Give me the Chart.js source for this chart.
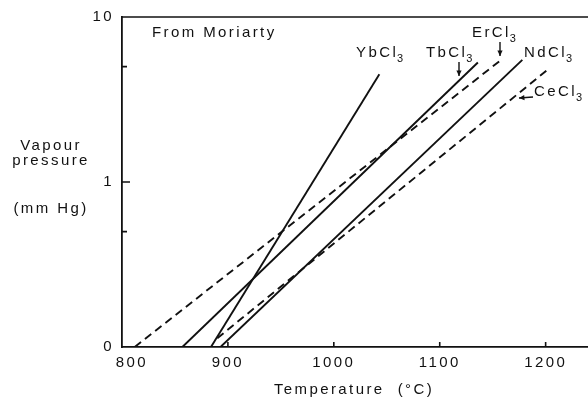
<!DOCTYPE html>
<html>
<head>
<meta charset="utf-8">
<script src="https://cdn.jsdelivr.net/npm/chart.js@4"></script>
<style>
  html, body { margin: 0; padding: 0; background: #fff; }
  #wrap { width: 588px; height: 401px; }
</style>
</head>
<body>
<div id="wrap"><canvas id="myChart" width="588" height="401"></canvas></div>
<script>
// Temperature (°C) and vapour pressure (mm Hg) at the two ends of each line
const ybTemp = [884, 1043];
const ybPres = [0.1, 4.5];
const tbTemp = [857, 1136];
const tbPres = [0.1, 5.3];
const erTemp = [812, 1158];
const erPres = [0.1, 5.5];
const ndTemp = [893, 1178];
const ndPres = [0.1, 5.5];
const ceTemp = [890, 1202];
const cePres = [0.113, 4.8];

// Axis ticks
const xTicks = [800, 900, 1000, 1100, 1200];
const yTicks = [0.1, 1, 10];
const yMinorTicks = [0.5, 5];

const INK = "#111";
const FONT = "15px 'Liberation Sans', Arial, sans-serif";
const SPACING = "2.4px";

function pts(t, p) {
  return t.map((v, i) => ({ x: v, y: p[i] }));
}

function line(name, t, p, dashed) {
  return {
    label: name,
    data: pts(t, p),
    borderColor: INK,
    borderWidth: 1.9,
    borderDash: dashed ? [8, 5] : [],
    pointRadius: 0,
    fill: false,
  };
}

// Text with a "3" subscript, e.g. YbCl3
function formula(ctx, base, x, y) {
  ctx.font = FONT;
  ctx.fillText(base, x, y);
  const w = ctx.measureText(base).width;
  ctx.font = "11px 'Liberation Sans', Arial, sans-serif";
  ctx.fillText("3", x + w - 1, y + 5);
  ctx.font = FONT;
}

function arrow(ctx, x1, y1, x2, y2) {
  ctx.beginPath();
  ctx.moveTo(x1, y1);
  ctx.lineTo(x2, y2);
  ctx.stroke();
  const a = Math.atan2(y2 - y1, x2 - x1);
  ctx.beginPath();
  ctx.moveTo(x2, y2);
  ctx.lineTo(x2 - 6 * Math.cos(a - 0.45), y2 - 6 * Math.sin(a - 0.45));
  ctx.lineTo(x2 - 6 * Math.cos(a + 0.45), y2 - 6 * Math.sin(a + 0.45));
  ctx.closePath();
  ctx.fill();
}

// Frame top, inward ticks, labels and axis titles
const decorations = {
  id: "decorations",
  beforeDraw(chart) {
    chart.ctx.letterSpacing = SPACING;
  },
  afterDraw(chart) {
    const ctx = chart.ctx;
    const area = chart.chartArea;
    const xs = chart.scales.x;
    const ys = chart.scales.y;
    ctx.save();
    ctx.letterSpacing = SPACING;
    ctx.strokeStyle = INK;
    ctx.fillStyle = INK;
    ctx.lineWidth = 1.6;

    // top of the frame
    ctx.beginPath();
    ctx.moveTo(area.left, area.top);
    ctx.lineTo(area.right, area.top);
    ctx.stroke();

    // ticks pointing into the plot
    ctx.beginPath();
    xTicks.slice(1).forEach((v) => {
      const px = xs.getPixelForValue(v);
      ctx.moveTo(px, area.bottom);
      ctx.lineTo(px, area.bottom - 5);
    });
    const py1 = ys.getPixelForValue(1);
    ctx.moveTo(area.left, py1);
    ctx.lineTo(area.left + 8, py1);
    yMinorTicks.forEach((v) => {
      const py = ys.getPixelForValue(v);
      ctx.moveTo(area.left, py);
      ctx.lineTo(area.left + 5, py);
    });
    ctx.stroke();

    // axis titles
    ctx.font = FONT;
    ctx.textAlign = "center";
    ctx.textBaseline = "middle";
    ctx.fillText("Vapour", 51, 146);
    ctx.fillText("pressure", 51, 161);
    ctx.fillText("(mm Hg)", 51, 209);
    ctx.fillText("Temperature  (°C)", 354, 390);

    // source note and series names
    ctx.textAlign = "left";
    ctx.textBaseline = "alphabetic";
    ctx.fillText("From Moriarty", 152, 37);
    formula(ctx, "YbCl", 356, 57);
    formula(ctx, "TbCl", 426, 57);
    formula(ctx, "ErCl", 472, 37);
    formula(ctx, "NdCl", 524, 57);
    formula(ctx, "CeCl", 534, 96);

    ctx.lineWidth = 1.4;
    arrow(ctx, 459, 62, 459, 76);
    arrow(ctx, 500, 42, 500, 56);
    arrow(ctx, 533, 97, 519, 98);
    ctx.restore();
  },
};

const ctx = document.querySelector("#myChart").getContext("2d");

const myChart = new Chart(ctx, {
  type: "line",
  data: {
    datasets: [
      line("YbCl3", ybTemp, ybPres, false),
      line("TbCl3", tbTemp, tbPres, false),
      line("ErCl3", erTemp, erPres, true),
      line("NdCl3", ndTemp, ndPres, false),
      line("CeCl3", ceTemp, cePres, true),
    ],
  },
  options: {
    responsive: false,
    animation: false,
    layout: {
      padding: { left: 0, top: 17, right: 0, bottom: 0 },
    },
    scales: {
      x: {
        type: "linear",
        min: 800,
        max: 1240,
        afterBuildTicks: (scale) => {
          scale.ticks = xTicks.map((v) => ({ value: v }));
        },
        afterFit: (scale) => {
          scale.height = 54;
        },
        grid: { display: false, drawTicks: false },
        border: { display: true, color: INK, width: 1.8 },
        ticks: {
          color: INK,
          padding: 7,
          maxRotation: 0,
          font: { family: "'Liberation Sans', Arial, sans-serif", size: 15 },
          // first label sits a little right of the corner
          callback: (v) => (v === 800 ? "   800" : String(v)),
        },
      },
      y: {
        type: "logarithmic",
        min: 0.1,
        max: 10,
        afterBuildTicks: (scale) => {
          scale.ticks = yTicks.map((v) => ({ value: v }));
        },
        afterFit: (scale) => {
          scale.width = 122;
        },
        grid: { display: false, drawTicks: false },
        border: { display: true, color: INK, width: 1.8 },
        ticks: {
          color: INK,
          padding: 8,
          font: { family: "'Liberation Sans', Arial, sans-serif", size: 15 },
          callback: (v) => (v < 0.5 ? "0" : String(v)),
        },
      },
    },
    plugins: {
      legend: { display: false },
      tooltip: { enabled: false },
    },
  },
  plugins: [decorations],
});
</script>
</body>
</html>
